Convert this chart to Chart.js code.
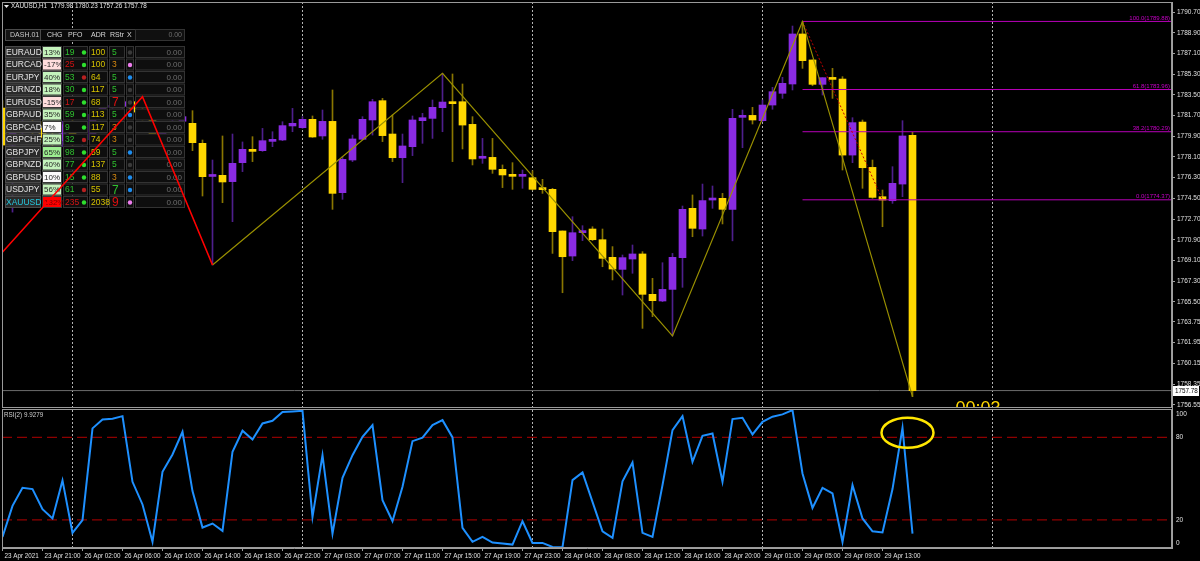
<!DOCTYPE html>
<html>
<head>
<meta charset="utf-8">
<script src="https://cdn.jsdelivr.net/npm/chart.js@4.4.0/dist/chart.umd.min.js"></script>
<style>
  html, body { margin: 0; padding: 0; background: #000; }
  body { width: 1200px; height: 561px; position: relative; overflow: hidden; }
  #priceChart { position: absolute; left: 0; top: 0; }
  #rsiChart { position: absolute; left: 0; top: 408px; }
</style>
</head>
<body>
<canvas id="priceChart" width="1200" height="409"></canvas>
<canvas id="rsiChart" width="1200" height="153"></canvas>
<script>
// --- Datos: XAUUSD H1, 23 Apr 17:00 -> 29 Apr 16:00 (una vela por hora) ---
const opens = [
  1782.35, 1779.13, 1780.20, 1781.00, 1780.60, 1779.80, 1779.50, 1780.90, 1779.20, 1779.60,
  1781.80, 1782.40, 1782.50, 1782.90, 1782.00, 1781.50, 1779.90, 1780.60, 1781.20, 1781.02,
  1779.28, 1776.40, 1776.50, 1775.95, 1777.60, 1778.76, 1778.64, 1779.45, 1779.57, 1780.79,
  1780.64, 1781.37, 1779.92, 1781.19, 1774.99, 1777.83, 1779.63, 1781.31, 1782.99, 1780.09,
  1778.03, 1778.99, 1781.25, 1781.45, 1782.38, 1782.87, 1782.90, 1780.93, 1777.98, 1778.06,
  1777.02, 1776.58, 1776.41, 1776.29, 1775.43, 1775.28, 1771.66, 1769.48, 1771.51, 1771.83,
  1770.90, 1769.37, 1768.32, 1769.22, 1769.66, 1766.15, 1765.57, 1766.58, 1769.34, 1773.63,
  1771.83, 1774.35, 1774.50, 1773.54, 1781.54, 1781.71, 1781.25, 1782.61, 1783.63, 1784.44,
  1788.79, 1786.53, 1784.41, 1784.99, 1784.87, 1778.26, 1781.13, 1777.19, 1774.64, 1774.29,
  1775.74, 1779.98
];
const highs = [
  1783.00, 1780.80, 1781.60, 1781.50, 1781.20, 1780.30, 1781.20, 1781.30, 1780.00, 1782.00,
  1782.70, 1782.90, 1783.10, 1783.00, 1783.33, 1781.70, 1781.00, 1781.50, 1782.00, 1782.12,
  1779.57, 1777.83, 1779.92, 1780.09, 1779.40, 1779.86, 1780.58, 1780.29, 1781.16, 1782.32,
  1781.60, 1781.66, 1782.18, 1783.92, 1778.12, 1780.00, 1781.60, 1783.11, 1783.19, 1781.74,
  1780.09, 1781.66, 1781.89, 1783.05, 1785.37, 1785.31, 1784.44, 1781.60, 1779.71, 1779.71,
  1777.40, 1777.60, 1776.96, 1776.90, 1776.15, 1775.37, 1771.66, 1772.90, 1772.12, 1772.03,
  1771.83, 1770.30, 1769.57, 1770.44, 1769.86, 1767.54, 1768.90, 1769.71, 1773.83, 1774.79,
  1775.74, 1775.57, 1774.93, 1782.24, 1782.18, 1782.41, 1783.05, 1784.15, 1785.02, 1789.48,
  1789.88, 1786.53, 1784.99, 1785.80, 1785.08, 1781.51, 1781.31, 1777.83, 1775.22, 1777.25,
  1781.25, 1780.23
];
const lows = [
  1778.80, 1773.30, 1779.50, 1780.00, 1779.30, 1778.90, 1779.00, 1778.60, 1778.50, 1779.40,
  1781.50, 1782.00, 1782.20, 1781.80, 1781.30, 1779.60, 1779.60, 1780.30, 1780.90, 1778.64,
  1774.70, 1768.70, 1774.12, 1772.47, 1776.82, 1777.69, 1778.58, 1778.99, 1779.51, 1780.29,
  1780.58, 1779.80, 1779.63, 1773.54, 1774.41, 1777.69, 1779.57, 1780.00, 1779.43, 1777.69,
  1775.86, 1778.21, 1779.28, 1779.71, 1780.29, 1777.69, 1778.79, 1777.40, 1777.54, 1776.67,
  1775.43, 1775.28, 1775.37, 1775.22, 1774.93, 1769.71, 1766.29, 1769.08, 1770.82, 1770.82,
  1768.55, 1767.40, 1766.09, 1767.98, 1763.19, 1764.21, 1765.51, 1762.53, 1766.76, 1771.16,
  1771.22, 1773.63, 1772.27, 1770.80, 1778.90, 1780.96, 1781.16, 1782.24, 1783.19, 1783.92,
  1785.80, 1784.29, 1783.48, 1783.19, 1776.96, 1777.60, 1775.37, 1774.50, 1772.03, 1774.06,
  1774.64, 1757.26
];
const closes = [
  1779.13, 1780.20, 1781.00, 1780.60, 1779.80, 1779.50, 1780.90, 1779.20, 1779.60, 1781.80,
  1782.40, 1782.50, 1782.90, 1782.00, 1781.50, 1779.90, 1780.60, 1781.20, 1781.60, 1779.34,
  1776.38, 1776.48, 1775.92, 1777.54, 1778.76, 1778.58, 1779.51, 1779.63, 1780.82, 1781.02,
  1781.37, 1779.83, 1781.19, 1774.93, 1777.89, 1779.66, 1781.37, 1782.90, 1779.95, 1778.03,
  1779.05, 1781.31, 1781.51, 1782.41, 1782.87, 1782.73, 1780.87, 1777.92, 1778.06, 1777.02,
  1776.53, 1776.41, 1776.53, 1775.28, 1775.25, 1771.60, 1769.42, 1771.51, 1771.69, 1770.90,
  1769.28, 1768.35, 1769.34, 1769.66, 1766.15, 1765.60, 1766.58, 1769.37, 1773.54, 1771.89,
  1774.30, 1774.50, 1773.54, 1781.45, 1781.69, 1781.31, 1782.61, 1783.77, 1784.50, 1788.79,
  1786.47, 1784.41, 1784.99, 1784.84, 1778.26, 1781.08, 1777.16, 1774.58, 1774.35, 1775.80,
  1779.92, 1757.78
];

// RSI(2), un valor por vela
const rsiValues = [
  7.6, 30.2, 43.3, 42.4, 27.8, 21.0, 48.7, 10.5, 19.8, 86.6,
  93.1, 93.6, 95.5, 47.7, 31.2, 4.0, 55.0, 67.6, 84.1, 40.9,
  14.4, 17.3, 12.0, 69.6, 84.9, 78.5, 90.2, 92.1, 98.5, 98.9,
  99.4, 22.2, 67.1, 10.0, 50.6, 67.1, 80.5, 89.0, 34.3, 19.0,
  44.1, 77.3, 79.8, 89.0, 92.6, 80.0, 14.2, 4.0, 7.6, 3.5,
  2.8, 2.0, 19.0, 3.2, 3.2, 0.3, 0.1, 48.9, 54.5, 33.1,
  11.7, 6.9, 48.0, 61.8, 10.5, 7.6, 45.3, 85.3, 95.5, 62.3,
  81.2, 82.9, 47.7, 93.4, 94.3, 82.2, 91.4, 95.1, 96.8, 99.9,
  53.8, 28.7, 43.3, 39.2, 4.0, 45.3, 21.0, 11.7, 10.8, 42.4,
  87.0, 9.9279
];
const rsiLevels = [80, 20];

// Ejes
const timeTickBars = [0, 4, 8, 12, 16, 20, 24, 28, 32, 36, 40, 44, 48, 52, 56, 60, 64, 68, 72, 76, 80, 84, 88];
const timeLabels = [
  '23 Apr 2021', '23 Apr 21:00', '26 Apr 02:00', '26 Apr 06:00', '26 Apr 10:00', '26 Apr 14:00',
  '26 Apr 18:00', '26 Apr 22:00', '27 Apr 03:00', '27 Apr 07:00', '27 Apr 11:00', '27 Apr 15:00',
  '27 Apr 19:00', '27 Apr 23:00', '28 Apr 04:00', '28 Apr 08:00', '28 Apr 12:00', '28 Apr 16:00',
  '28 Apr 20:00', '29 Apr 01:00', '29 Apr 05:00', '29 Apr 09:00', '29 Apr 13:00'
];
const priceTicks = [1790.70, 1788.90, 1787.10, 1785.30, 1783.50, 1781.70, 1779.90, 1778.10, 1776.30, 1774.50,
  1772.70, 1770.90, 1769.10, 1767.30, 1765.50, 1763.75, 1761.95, 1760.15, 1758.35, 1756.55];
const rsiTickLabels = ['100', '80', '20', '0'];
const rsiTickValues = [97.2, 80, 20, 3.2]; // MT4 mete las etiquetas extremas dentro del panel
const separatorBars = [7, 30, 53, 76, 99]; // inicio de cada dia

// ZigZag y Fibonacci
const zigzagRedBars = [-2, 14, 21];
const zigzagRedPrices = [1767.90, 1783.33, 1768.70];
const zigzagBars = [21, 44, 67, 80, 91];
const zigzagPrices = [1768.70, 1785.37, 1762.53, 1789.88, 1757.26];
const fibLevels = ['100.0', '61.8', '38.2', '0.0'];
const fibPrices = [1789.88, 1783.96, 1780.29, 1774.37];
const fibAnchorBars = [80, 88];

// Dashboard
const dashSymbols = ['EURAUD', 'EURCAD', 'EURJPY', 'EURNZD', 'EURUSD', 'GBPAUD', 'GBPCAD', 'GBPCHF', 'GBPJPY', 'GBPNZD', 'GBPUSD', 'USDJPY', 'XAUUSD'];
const dashChg = [13, -17, 40, 18, -15, 35, 7, 25, 65, 40, 10, 56, 132];
const dashPfo = [19, 25, 53, 30, 17, 59, 9, 32, 98, 77, 15, 61, 235];
const dashPfoUp = [1, 1, 0, 1, 1, 1, 1, 0, 1, 1, 1, 0, 1];
const dashAdr = [100, 100, 64, 117, 68, 113, 117, 74, 59, 137, 88, 55, 2038];
const dashRstr = [5, 3, 5, 5, 7, 5, 3, 3, 5, 5, 3, 7, 9];
const dashSignal = ['none', 'sell', 'buy', 'none', 'none', 'buy', 'none', 'none', 'buy', 'none', 'buy', 'buy', 'sell'];

const chartTitle = 'XAUUSD,H1';
const rsiTitle = 'RSI(2)';
const countdown = '00:03';

// --- Escalas / estilos ---
const X_MIN = -0.05, X_MAX = 116.95;
const Y_MIN = 1756.266, Y_MAX = 1791.570;
const R_MIN = -0.5, R_MAX = 100.7;
const FONT = 'Liberation Sans';
const BULL = '#8a2be2', BULL_WICK = '#4e1f8c', BEAR = '#ffd700', BEAR_WICK = '#8a7600';

Chart.defaults.font.family = FONT;

const bars = opens.map((_, i) => i);
const isBull = i => closes[i] >= opens[i];

function vLine(b, lo, hi) {
  return {
    type: 'line', data: [{ x: b, y: lo }, { x: b, y: hi }],
    borderColor: '#b4b4b4', borderWidth: 1, borderDash: [2, 2], pointRadius: 0, order: 20
  };
}

// el eje no debe reservar espacio para media etiqueta arriba/abajo
function fitRightAxis(s) {
  s.width = 28;
  s.paddingTop = 0;
  s.paddingBottom = 0;
}

// --- Dashboard (se pinta sobre las velas y debajo del zigzag rojo) ---
function drawDashboard(ctx) {
  const rowTop = 46, rowH = 12.5;
  const cols = { sym: [5, 36], chg: [42, 20], pfo: [63, 25], adr: [89, 19], rstr: [109, 16], sig: [126, 8], val: [135, 50] };
  ctx.save();
  ctx.textBaseline = 'middle';
  ctx.lineWidth = 1;

  const cell = (c, y, h, fill, stroke) => {
    ctx.fillStyle = fill;
    ctx.fillRect(c[0], y, c[1], h);
    ctx.strokeStyle = stroke;
    ctx.strokeRect(c[0] + 0.5, y + 0.5, c[1] - 1, h - 1);
  };

  // cabecera
  ctx.fillStyle = '#0a0a0a';
  ctx.fillRect(5, 29, 180, 12);
  ctx.strokeStyle = '#3c3c3c';
  ctx.strokeRect(5.5, 29.5, 179, 11);
  cell(cols.sym, 29, 12, '#141414', '#4a4a4a');
  cell(cols.val, 29, 12, '#101010', '#333');
  ctx.font = '7px ' + FONT;
  ctx.fillStyle = '#c8c8c8';
  ctx.textAlign = 'left';
  ctx.fillText('DASH.01', 10, 35.5);
  ctx.fillStyle = '#d8d8d8';
  ctx.fillText('CHG', 47, 35.5);
  ctx.fillText('PFO', 68, 35.5);
  ctx.fillText('ADR', 91, 35.5);
  ctx.fillText('RStr', 110, 35.5);
  ctx.fillText('X', 127, 35.5);
  ctx.textAlign = 'right';
  ctx.fillStyle = '#6e6e6e';
  ctx.fillText('0.00', 182, 35.5);

  dashSymbols.forEach((sym, r) => {
    const y = rowTop + r * rowH;
    const h = rowH - 0.5;
    const cy = y + h / 2 + 0.5;
    const chg = dashChg[r];
    const hot = chg < 0 || chg > 100;

    cell(cols.sym, y, h, '#2a2a2a', '#4a4a4a');
    let chgBg = '#c4f3bc';
    if (chg < 0) chgBg = '#ffdede';
    else if (chg <= 10) chgBg = '#fbfbfb';
    else if (chg > 100) chgBg = '#ff0000';
    else if (chg > 60) chgBg = '#9cee90';
    cell(cols.chg, y, h, chgBg, '#3a3a3a');
    ['pfo', 'adr', 'rstr', 'sig', 'val'].forEach(k => cell(cols[k], y, h, '#0e0e0e', '#333'));

    ctx.textAlign = 'left';
    ctx.font = '8.5px ' + FONT;
    ctx.fillStyle = sym === 'XAUUSD' ? '#25c6dc' : '#e4e4e4';
    ctx.fillText(sym, 6, cy);

    ctx.font = '8px ' + FONT;
    ctx.fillStyle = chg > 100 ? '#7a0000' : '#262626';
    ctx.fillText(chg + '%', 44, cy);

    ctx.font = '8.5px ' + FONT;
    ctx.fillStyle = hot ? '#d41414' : '#2fc12f';
    ctx.fillText(String(dashPfo[r]), 65, cy);
    ctx.beginPath();
    ctx.arc(84, cy, 2.2, 0, Math.PI * 2);
    ctx.fillStyle = dashPfoUp[r] ? '#2ee02e' : '#b82020';
    ctx.fill();

    ctx.fillStyle = '#d6c300';
    ctx.fillText(String(dashAdr[r]), 91, cy);

    const rs = dashRstr[r];
    ctx.font = (rs >= 7 ? '12px ' : '8.5px ') + FONT;
    ctx.fillStyle = rs === 3 ? '#d98a10' : (hot ? '#e01010' : '#2fc12f');
    ctx.fillText(String(rs), 112, cy + (rs >= 7 ? 0.5 : 0));

    ctx.beginPath();
    ctx.arc(130, cy, 2.2, 0, Math.PI * 2);
    ctx.fillStyle = dashSignal[r] === 'buy' ? '#1e8ef0' : (dashSignal[r] === 'sell' ? '#f07ef0' : '#3a3a3a');
    ctx.fill();

    ctx.textAlign = 'right';
    ctx.font = '8px ' + FONT;
    ctx.fillStyle = '#6e6e6e';
    ctx.fillText('0.00', 182, cy);
  });
  ctx.restore();
}

function drawBorder(chart) {
  const a = chart.chartArea, ctx = chart.ctx;
  ctx.save();
  ctx.strokeStyle = '#9a9a9a';
  ctx.lineWidth = 1;
  ctx.strokeRect(a.left + 0.5, a.top + 0.5, a.right - a.left - 1, a.bottom - a.top - 1);
  ctx.restore();
}

const mainDecor = {
  id: 'mainDecor',
  afterDatasetDraw(chart, args) {
    if (chart.data.datasets[args.index].label === 'bodies') drawDashboard(chart.ctx);
  },
  afterDatasetsDraw(chart) {
    const ctx = chart.ctx, x = chart.scales.x, y = chart.scales.y, a = chart.chartArea;
    ctx.save();
    ctx.font = '6px ' + FONT;
    ctx.fillStyle = '#c800c8';
    ctx.textAlign = 'right';
    ctx.textBaseline = 'bottom';
    fibLevels.forEach((lv, k) => {
      ctx.fillText(lv + '(' + fibPrices[k].toFixed(2) + ')', a.right - 2, y.getPixelForValue(fibPrices[k]) - 0.5);
    });
    // cuenta atras de la vela, cortada por el borde del panel
    ctx.beginPath();
    ctx.rect(a.left, a.top, a.right - a.left, a.bottom - a.top);
    ctx.clip();
    ctx.font = '18px ' + FONT;
    ctx.fillStyle = '#ffd700';
    ctx.textAlign = 'left';
    ctx.textBaseline = 'alphabetic';
    ctx.fillText(countdown, x.getPixelForValue(95.3), a.bottom + 6);
    ctx.restore();
  },
  afterDraw(chart) {
    const ctx = chart.ctx, y = chart.scales.y, a = chart.chartArea;
    drawBorder(chart);
    ctx.save();
    // cabecera
    ctx.fillStyle = '#e8e8e8';
    ctx.beginPath();
    ctx.moveTo(4, 5); ctx.lineTo(9, 5); ctx.lineTo(6.5, 8); ctx.closePath();
    ctx.fill();
    ctx.font = '6.3px ' + FONT;
    ctx.textBaseline = 'middle';
    ctx.textAlign = 'left';
    const last = opens.length - 1;
    ctx.fillText(chartTitle + '  ' + [opens[last], highs[last], lows[last], closes[last]].map(v => v.toFixed(2)).join(' '), 11, 6.5);
    // etiqueta del precio actual
    const py = Math.round(y.getPixelForValue(closes[last]));
    ctx.fillStyle = '#ffffff';
    ctx.fillRect(a.right + 1, py - 5, 26, 10);
    ctx.fillStyle = '#000';
    ctx.fillText(closes[last].toFixed(2), a.right + 3, py + 0.5);
    ctx.restore();
  }
};

const priceChart = new Chart(document.getElementById('priceChart'), {
  type: 'bar',
  data: {
    datasets: [
      ...separatorBars.map(b => vLine(b, Y_MIN, Y_MAX)),
      {
        type: 'line', label: 'bid', data: [{ x: X_MIN, y: closes[closes.length - 1] }, { x: X_MAX, y: closes[closes.length - 1] }],
        borderColor: '#6c6c6c', borderWidth: 1, pointRadius: 0, order: 15
      },
      {
        label: 'wicks', data: bars.map(i => ({ x: i, y: [lows[i], highs[i]] })),
        backgroundColor: bars.map(i => isBull(i) ? BULL_WICK : BEAR_WICK),
        barThickness: 1, grouped: false, borderWidth: 0, order: 12
      },
      {
        label: 'bodies', data: bars.map(i => ({ x: i, y: [opens[i], closes[i]] })),
        backgroundColor: bars.map(i => isBull(i) ? BULL : BEAR),
        barThickness: 7, minBarLength: 2, grouped: false, borderWidth: 0, order: 11
      },
      ...fibPrices.map(p => ({
        type: 'line', data: [{ x: fibAnchorBars[0], y: p }, { x: X_MAX, y: p }],
        borderColor: '#b800b8', borderWidth: 1, pointRadius: 0, order: 5
      })),
      {
        type: 'line', label: 'fib trend', data: fibAnchorBars.map((b, k) => ({ x: b, y: fibPrices[k === 0 ? 0 : fibPrices.length - 1] })),
        borderColor: '#c00000', borderWidth: 1, borderDash: [2, 2], pointRadius: 0, order: 4
      },
      {
        type: 'line', label: 'zigzag', data: zigzagBars.map((b, k) => ({ x: b, y: zigzagPrices[k] })),
        borderColor: '#9a9000', borderWidth: 1.2, pointRadius: 0, tension: 0, order: 3
      },
      {
        type: 'line', label: 'zigzag red', data: zigzagRedBars.map((b, k) => ({ x: b, y: zigzagRedPrices[k] })),
        borderColor: '#ff0000', borderWidth: 1.6, pointRadius: 0, tension: 0, order: 1
      }
    ]
  },
  options: {
    responsive: false,
    animation: false,
    layout: { padding: { left: 2, top: 2, right: 0, bottom: 1 } },
    plugins: { legend: { display: false }, tooltip: { enabled: false } },
    scales: {
      x: { type: 'linear', min: X_MIN, max: X_MAX, offset: false, display: false, grid: { offset: false } },
      y: {
        position: 'right', min: Y_MIN, max: Y_MAX,
        afterFit: fitRightAxis,
        afterBuildTicks: s => { s.ticks = priceTicks.map(v => ({ value: v })); },
        ticks: { color: '#e0e0e0', font: { size: 6.5 }, padding: 2, callback: v => Number(v).toFixed(2) },
        grid: { drawOnChartArea: false, color: '#a0a0a0', tickLength: 3 },
        border: { color: '#a0a0a0' }
      }
    }
  },
  plugins: [mainDecor]
});

const rsiDecor = {
  id: 'rsiDecor',
  afterDatasetsDraw(chart) {
    const ctx = chart.ctx, x = chart.scales.x, y = chart.scales.y;
    ctx.save();
    ctx.strokeStyle = '#ffe600';
    ctx.lineWidth = 2.5;
    ctx.beginPath();
    ctx.ellipse(x.getPixelForValue(90.5), y.getPixelForValue(83.4), 26, 15, 0, 0, Math.PI * 2);
    ctx.stroke();
    ctx.restore();
  },
  afterDraw(chart) {
    const ctx = chart.ctx, a = chart.chartArea;
    drawBorder(chart);
    ctx.save();
    ctx.font = '6.3px ' + FONT;
    ctx.fillStyle = '#cfcfcf';
    ctx.textBaseline = 'middle';
    ctx.fillText(rsiTitle + ' ' + rsiValues[rsiValues.length - 1].toFixed(4), a.left + 2, a.top + 6);
    ctx.restore();
  }
};

const rsiChart = new Chart(document.getElementById('rsiChart'), {
  type: 'line',
  data: {
    datasets: [
      ...separatorBars.map(b => vLine(b, R_MIN, R_MAX)),
      ...rsiLevels.map(v => ({
        data: [{ x: X_MIN, y: v }, { x: X_MAX, y: v }],
        borderColor: '#8e0000', borderWidth: 1.3, borderDash: [10, 5], pointRadius: 0, order: 8
      })),
      {
        label: 'RSI(2)', data: rsiValues.map((v, i) => ({ x: i, y: v })),
        borderColor: '#1e90ff', borderWidth: 2, pointRadius: 0, tension: 0, order: 1
      }
    ]
  },
  options: {
    responsive: false,
    animation: false,
    layout: { padding: { left: 2, top: 1, right: 0, bottom: 0 } },
    plugins: { legend: { display: false }, tooltip: { enabled: false } },
    scales: {
      x: {
        type: 'linear', min: X_MIN, max: X_MAX, offset: false,
        afterFit: s => { s.height = 13; },
        afterBuildTicks: s => { s.ticks = timeTickBars.map(v => ({ value: v })); },
        ticks: {
          autoSkip: false, maxRotation: 0, align: 'start', labelOffset: 2, padding: 1,
          color: '#e0e0e0', font: { size: 6.3 }, callback: (v, i) => timeLabels[i]
        },
        grid: { drawOnChartArea: false, color: '#a0a0a0', tickLength: 3 },
        border: { color: '#a0a0a0' }
      },
      y: {
        position: 'right', min: R_MIN, max: R_MAX,
        afterFit: fitRightAxis,
        afterBuildTicks: s => { s.ticks = rsiTickValues.map(v => ({ value: v })); },
        ticks: { color: '#e0e0e0', font: { size: 6.5 }, padding: 4, callback: (v, i) => rsiTickLabels[i] },
        grid: { drawOnChartArea: false, drawTicks: false },
        border: { color: '#a0a0a0' }
      }
    }
  },
  plugins: [rsiDecor]
});
</script>
</body>
</html>
